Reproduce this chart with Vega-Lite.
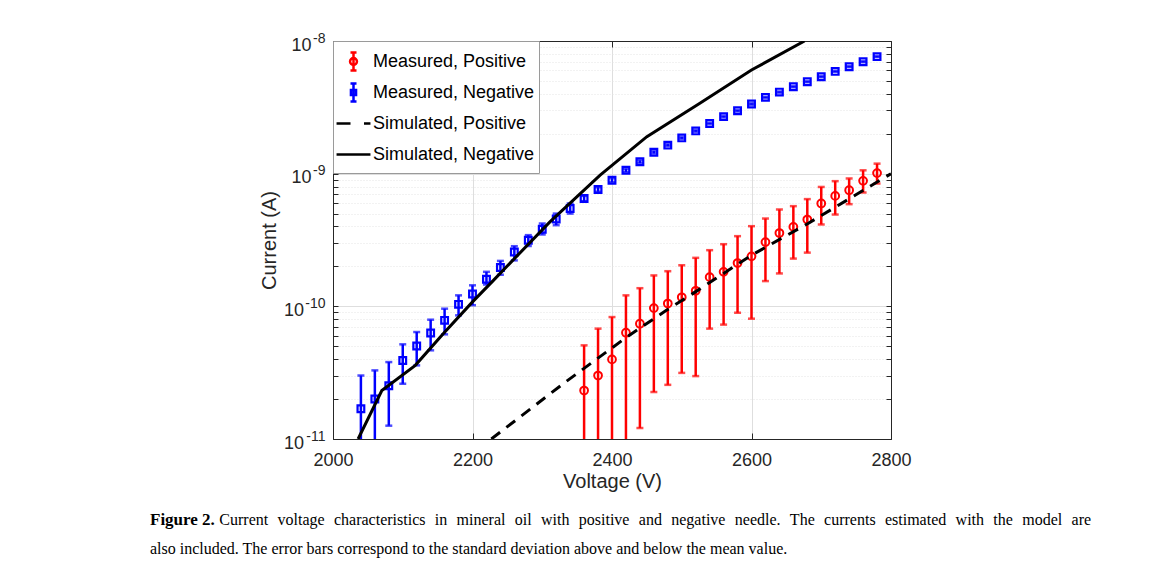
{
  "$schema": "https://vega.github.io/schema/vega-lite/v6.json",
  "width": 558,
  "height": 398,
  "autosize": {"type": "none"},
  "padding": {"left": 333, "top": 41, "right": 279, "bottom": 147},
  "background": "white",
  "title": {
    "text": "Figure 2.",
    "subtitle": [
      "\u200b\u2003\u2003\u2003\u2003\u2004Current\u2004\u2005voltage\u2004\u2005characteristics\u2004\u2005in\u2004\u2005mineral\u2004\u2005oil\u2004\u2005with\u2004\u2005positive\u2004\u2005and\u2004\u2005negative\u2004\u2005needle.\u2004\u2005The\u2004\u2005currents\u2004\u2005estimated\u2004\u2005with\u2004\u2005the\u2004\u2005model\u2004\u2005are",
      "also included. The error bars correspond to the standard deviation above and below the mean value."
    ],
    "orient": "bottom",
    "anchor": "start",
    "frame": "group",
    "offset": 21,
    "dx": -183,
    "font": "Liberation Serif",
    "fontSize": 17,
    "fontWeight": "bold",
    "color": "black",
    "subtitleFont": "Liberation Serif",
    "subtitleFontSize": 16,
    "subtitleFontWeight": "normal",
    "subtitleColor": "black",
    "subtitlePadding": -17,
    "subtitleLineHeight": 29
  },
  "datasets": {
    "measured": [
      {"series": "Measured, Negative", "V": 2040, "I": 1.69e-11, "lo": 3e-12, "hi": 3.01e-11},
      {"series": "Measured, Negative", "V": 2060, "I": 2.0e-11, "lo": 3e-12, "hi": 3.29e-11},
      {"series": "Measured, Negative", "V": 2080, "I": 2.52e-11, "lo": 1.26e-11, "hi": 3.8e-11},
      {"series": "Measured, Negative", "V": 2100, "I": 3.91e-11, "lo": 2.61e-11, "hi": 5.17e-11},
      {"series": "Measured, Negative", "V": 2120, "I": 5.02e-11, "lo": 3.59e-11, "hi": 6.4e-11},
      {"series": "Measured, Negative", "V": 2140, "I": 6.29e-11, "lo": 4.66e-11, "hi": 7.93e-11},
      {"series": "Measured, Negative", "V": 2160, "I": 7.84e-11, "lo": 6.15e-11, "hi": 9.6e-11},
      {"series": "Measured, Negative", "V": 2180, "I": 1.035e-10, "lo": 8.55e-11, "hi": 1.21e-10},
      {"series": "Measured, Negative", "V": 2200, "I": 1.24e-10, "lo": 1.02e-10, "hi": 1.44e-10},
      {"series": "Measured, Negative", "V": 2220, "I": 1.6e-10, "lo": 1.46e-10, "hi": 1.82e-10},
      {"series": "Measured, Negative", "V": 2240, "I": 1.96e-10, "lo": 1.73e-10, "hi": 2.2e-10},
      {"series": "Measured, Negative", "V": 2260, "I": 2.57e-10, "lo": 2.22e-10, "hi": 2.84e-10},
      {"series": "Measured, Negative", "V": 2280, "I": 3.15e-10, "lo": 2.85e-10, "hi": 3.44e-10},
      {"series": "Measured, Negative", "V": 2300, "I": 3.81e-10, "lo": 3.48e-10, "hi": 4.21e-10},
      {"series": "Measured, Negative", "V": 2320, "I": 4.55e-10, "lo": 4.09e-10, "hi": 5.0e-10},
      {"series": "Measured, Negative", "V": 2340, "I": 5.46e-10, "lo": 5.0e-10, "hi": 5.96e-10},
      {"series": "Measured, Negative", "V": 2360, "I": 6.5e-10, "lo": 6.2e-10, "hi": 6.8e-10},
      {"series": "Measured, Negative", "V": 2380, "I": 7.59e-10, "lo": 7.3e-10, "hi": 7.9e-10},
      {"series": "Measured, Negative", "V": 2400, "I": 8.93e-10, "lo": 8.6e-10, "hi": 9.25e-10},
      {"series": "Measured, Negative", "V": 2420, "I": 1.06e-9, "lo": 1.03e-9, "hi": 1.09e-9},
      {"series": "Measured, Negative", "V": 2440, "I": 1.23e-9, "lo": 1.2e-9, "hi": 1.26e-9},
      {"series": "Measured, Negative", "V": 2460, "I": 1.45e-9, "lo": 1.42e-9, "hi": 1.48e-9},
      {"series": "Measured, Negative", "V": 2480, "I": 1.64e-9, "lo": 1.61e-9, "hi": 1.67e-9},
      {"series": "Measured, Negative", "V": 2500, "I": 1.86e-9, "lo": 1.83e-9, "hi": 1.89e-9},
      {"series": "Measured, Negative", "V": 2520, "I": 2.1e-9, "lo": 2.07e-9, "hi": 2.13e-9},
      {"series": "Measured, Negative", "V": 2540, "I": 2.39e-9, "lo": 2.36e-9, "hi": 2.42e-9},
      {"series": "Measured, Negative", "V": 2560, "I": 2.69e-9, "lo": 2.65e-9, "hi": 2.73e-9},
      {"series": "Measured, Negative", "V": 2580, "I": 2.98e-9, "lo": 2.94e-9, "hi": 3.02e-9},
      {"series": "Measured, Negative", "V": 2600, "I": 3.35e-9, "lo": 3.31e-9, "hi": 3.39e-9},
      {"series": "Measured, Negative", "V": 2620, "I": 3.76e-9, "lo": 3.72e-9, "hi": 3.8e-9},
      {"series": "Measured, Negative", "V": 2640, "I": 4.12e-9, "lo": 4.08e-9, "hi": 4.16e-9},
      {"series": "Measured, Negative", "V": 2660, "I": 4.52e-9, "lo": 4.48e-9, "hi": 4.56e-9},
      {"series": "Measured, Negative", "V": 2680, "I": 4.93e-9, "lo": 4.89e-9, "hi": 4.97e-9},
      {"series": "Measured, Negative", "V": 2700, "I": 5.38e-9, "lo": 5.33e-9, "hi": 5.43e-9},
      {"series": "Measured, Negative", "V": 2720, "I": 5.9e-9, "lo": 5.85e-9, "hi": 5.95e-9},
      {"series": "Measured, Negative", "V": 2740, "I": 6.4e-9, "lo": 6.35e-9, "hi": 6.45e-9},
      {"series": "Measured, Negative", "V": 2760, "I": 6.98e-9, "lo": 6.92e-9, "hi": 7.04e-9},
      {"series": "Measured, Negative", "V": 2780, "I": 7.62e-9, "lo": 7.56e-9, "hi": 7.68e-9},
      {"series": "Measured, Positive", "V": 2360, "I": 2.32e-11, "lo": 5e-12, "hi": 5.08e-11},
      {"series": "Measured, Positive", "V": 2380, "I": 3.01e-11, "lo": 5e-12, "hi": 6.79e-11},
      {"series": "Measured, Positive", "V": 2400, "I": 3.98e-11, "lo": 5e-12, "hi": 8.3e-11},
      {"series": "Measured, Positive", "V": 2420, "I": 6.33e-11, "lo": 5e-12, "hi": 1.21e-10},
      {"series": "Measured, Positive", "V": 2440, "I": 7.4e-11, "lo": 1.21e-11, "hi": 1.37e-10},
      {"series": "Measured, Positive", "V": 2460, "I": 9.7e-11, "lo": 2.26e-11, "hi": 1.71e-10},
      {"series": "Measured, Positive", "V": 2480, "I": 1.05e-10, "lo": 2.56e-11, "hi": 1.84e-10},
      {"series": "Measured, Positive", "V": 2500, "I": 1.17e-10, "lo": 3.15e-11, "hi": 2.04e-10},
      {"series": "Measured, Positive", "V": 2520, "I": 1.31e-10, "lo": 2.98e-11, "hi": 2.32e-10},
      {"series": "Measured, Positive", "V": 2540, "I": 1.66e-10, "lo": 6.79e-11, "hi": 2.65e-10},
      {"series": "Measured, Positive", "V": 2560, "I": 1.82e-10, "lo": 7.28e-11, "hi": 2.94e-10},
      {"series": "Measured, Positive", "V": 2580, "I": 2.12e-10, "lo": 8.95e-11, "hi": 3.38e-10},
      {"series": "Measured, Positive", "V": 2600, "I": 2.38e-10, "lo": 8.07e-11, "hi": 4.02e-10},
      {"series": "Measured, Positive", "V": 2620, "I": 3.05e-10, "lo": 1.55e-10, "hi": 4.59e-10},
      {"series": "Measured, Positive", "V": 2640, "I": 3.57e-10, "lo": 1.77e-10, "hi": 5.37e-10},
      {"series": "Measured, Positive", "V": 2660, "I": 3.97e-10, "lo": 2.29e-10, "hi": 5.69e-10},
      {"series": "Measured, Positive", "V": 2680, "I": 4.51e-10, "lo": 2.54e-10, "hi": 6.43e-10},
      {"series": "Measured, Positive", "V": 2700, "I": 5.96e-10, "lo": 4.14e-10, "hi": 7.94e-10},
      {"series": "Measured, Positive", "V": 2720, "I": 6.8e-10, "lo": 4.92e-10, "hi": 8.78e-10},
      {"series": "Measured, Positive", "V": 2740, "I": 7.5e-10, "lo": 5.89e-10, "hi": 9.2e-10},
      {"series": "Measured, Positive", "V": 2760, "I": 8.83e-10, "lo": 7.21e-10, "hi": 1.06e-9},
      {"series": "Measured, Positive", "V": 2780, "I": 1.01e-9, "lo": 8.43e-10, "hi": 1.19e-9}
    ],
    "simulated": [
      {"series": "Simulated, Negative", "V": 2036, "I": 1.0e-11},
      {"series": "Simulated, Negative", "V": 2070, "I": 2.32e-11},
      {"series": "Simulated, Negative", "V": 2118, "I": 3.59e-11},
      {"series": "Simulated, Negative", "V": 2158, "I": 6.22e-11},
      {"series": "Simulated, Negative", "V": 2200, "I": 1.08e-10},
      {"series": "Simulated, Negative", "V": 2230, "I": 1.57e-10},
      {"series": "Simulated, Negative", "V": 2311, "I": 4.33e-10},
      {"series": "Simulated, Negative", "V": 2383, "I": 9.75e-10},
      {"series": "Simulated, Negative", "V": 2450, "I": 1.9e-9},
      {"series": "Simulated, Negative", "V": 2526, "I": 3.39e-9},
      {"series": "Simulated, Negative", "V": 2600, "I": 6.04e-9},
      {"series": "Simulated, Negative", "V": 2676, "I": 1.0e-8},
      {"series": "Simulated, Positive", "V": 2227, "I": 1.0e-11},
      {"series": "Simulated, Positive", "V": 2330, "I": 2.61e-11},
      {"series": "Simulated, Positive", "V": 2421, "I": 5.86e-11},
      {"series": "Simulated, Positive", "V": 2478, "I": 9.33e-11},
      {"series": "Simulated, Positive", "V": 2519, "I": 1.28e-10},
      {"series": "Simulated, Positive", "V": 2600, "I": 2.43e-10},
      {"series": "Simulated, Positive", "V": 2681, "I": 4.21e-10},
      {"series": "Simulated, Positive", "V": 2800, "I": 1.0e-9}
    ],
    "legendrows": [
      {"series": "Measured, Positive"},
      {"series": "Measured, Negative"},
      {"series": "Simulated, Positive"},
      {"series": "Simulated, Negative"}
    ]
  },
  "resolve": {"axis": {"x": "independent", "y": "independent"}},
  "layer": [
    {
      "data": {"name": "measured"},
      "mark": {"type": "rule", "strokeWidth": 2.5, "clip": true},
      "encoding": {
        "x": {
          "field": "V", "type": "quantitative",
          "scale": {"domain": [2000, 2800], "nice": false, "zero": false},
          "axis": {
            "orient": "bottom",
            "values": [2000, 2200, 2400, 2600, 2800],
            "format": "d",
            "title": "Voltage (V)",
            "grid": true, "gridColor": "#dedede", "gridWidth": 1,
            "tickSize": -6, "tickColor": "#262626", "tickWidth": 1,
            "domainColor": "#262626", "domainWidth": 1,
            "labelFont": "Liberation Sans", "labelFontSize": 18, "labelColor": "#262626",
            "labelPadding": 18, "labelFlush": false, "labelOverlap": false,
            "titleFont": "Liberation Sans", "titleFontSize": 20, "titleFontWeight": "normal",
            "titleColor": "#262626", "titlePadding": 2
          }
        },
        "y": {
          "field": "lo", "type": "quantitative",
          "scale": {"type": "log", "domain": [1e-11, 1e-8], "nice": false},
          "axis": {
            "orient": "left",
            "values": [1e-11, 2e-11, 3e-11, 4e-11, 5e-11, 6e-11, 7e-11, 8e-11, 9e-11, 1e-10, 2e-10, 3e-10, 4e-10, 5e-10, 6e-10, 7e-10, 8e-10, 9e-10, 1e-9, 2e-9, 3e-9, 4e-9, 5e-9, 6e-9, 7e-9, 8e-9, 9e-9, 1e-8],
            "labelExpr": "abs(log(datum.value)/LN10 - round(log(datum.value)/LN10)) < 0.001 ? '10' : ''",
            "title": "Current (A)",
            "grid": true,
            "gridColor": {"condition": {"test": "abs(log(datum.value)/LN10 - round(log(datum.value)/LN10)) < 0.001", "value": "#dedede"}, "value": "#e4e4e4"},
            "gridDash": {"condition": {"test": "abs(log(datum.value)/LN10 - round(log(datum.value)/LN10)) < 0.001", "value": []}, "value": [1, 2]},
            "tickSize": -5, "tickColor": "#262626", "tickWidth": 1,
            "domainColor": "#262626", "domainWidth": 1,
            "labelFont": "Liberation Sans", "labelFontSize": 18, "labelColor": "#262626",
            "labelPadding": {"condition": {"test": "datum.value < 5e-10", "value": 34.5}, "value": 27},
            "labelOffset": 4, "labelOverlap": false, "labelFlush": false,
            "titleFont": "Liberation Sans", "titleFontSize": 20, "titleFontWeight": "normal",
            "titleColor": "#262626", "titlePadding": 4
          }
        },
        "y2": {"field": "hi"},
        "color": {"condition": {"test": "datum.series == 'Measured, Positive'", "value": "#ff0000"}, "value": "#0000ff"}
      }
    },
    {
      "data": {"name": "measured"},
      "mark": {"type": "tick", "orient": "horizontal", "size": 7, "thickness": 2.5, "clip": true},
      "encoding": {
        "x": {"field": "V", "type": "quantitative", "scale": {"domain": [2000, 2800], "nice": false, "zero": false}, "axis": null},
        "y": {
          "field": "lo", "type": "quantitative",
          "scale": {"type": "log", "domain": [1e-11, 1e-8], "nice": false},
          "axis": {
            "orient": "left",
            "values": [1e-11, 1e-10, 1e-9, 1e-8],
            "labelExpr": "round(log(datum.value)/LN10) == -8 ? '-8' : round(log(datum.value)/LN10) == -9 ? '-9' : round(log(datum.value)/LN10) == -10 ? '-10' : '-11'",
            "title": null, "grid": false, "ticks": false, "tickSize": 0, "domain": false,
            "labelFont": "Liberation Sans", "labelFontSize": 14, "labelColor": "#262626",
            "labelPadding": 8, "labelOffset": -3, "labelOverlap": false, "labelFlush": false
          }
        },
        "color": {"condition": {"test": "datum.series == 'Measured, Positive'", "value": "#ff0000"}, "value": "#0000ff"}
      }
    },
    {
      "data": {"name": "measured"},
      "mark": {"type": "tick", "orient": "horizontal", "size": 7, "thickness": 2.5, "clip": true},
      "encoding": {
        "x": {"field": "V", "type": "quantitative", "scale": {"domain": [2000, 2800], "nice": false, "zero": false}, "axis": null},
        "y": {"field": "hi", "type": "quantitative", "scale": {"type": "log", "domain": [1e-11, 1e-8], "nice": false}, "axis": null},
        "color": {"condition": {"test": "datum.series == 'Measured, Positive'", "value": "#ff0000"}, "value": "#0000ff"}
      }
    },
    {
      "data": {"name": "measured"},
      "transform": [{"filter": "datum.series == 'Measured, Positive'"}],
      "mark": {"type": "point", "shape": "circle", "filled": false, "color": "#ff0000", "strokeWidth": 2, "size": 60, "opacity": 1, "clip": true},
      "encoding": {
        "x": {"field": "V", "type": "quantitative", "scale": {"domain": [2000, 2800], "nice": false, "zero": false}, "axis": null},
        "y": {"field": "I", "type": "quantitative", "scale": {"type": "log", "domain": [1e-11, 1e-8], "nice": false}, "axis": null}
      }
    },
    {
      "data": {"name": "measured"},
      "transform": [{"filter": "datum.series == 'Measured, Negative'"}],
      "mark": {"type": "point", "shape": "square", "filled": false, "color": "#0000ff", "strokeWidth": 2.2, "size": 45, "opacity": 1, "clip": true},
      "encoding": {
        "x": {"field": "V", "type": "quantitative", "scale": {"domain": [2000, 2800], "nice": false, "zero": false}, "axis": null},
        "y": {"field": "I", "type": "quantitative", "scale": {"type": "log", "domain": [1e-11, 1e-8], "nice": false}, "axis": null}
      }
    },
    {
      "data": {"name": "simulated"},
      "transform": [{"filter": "datum.series == 'Simulated, Negative'"}],
      "mark": {"type": "line", "color": "#000000", "strokeWidth": 3, "clip": true},
      "encoding": {
        "x": {
          "field": "V", "type": "quantitative",
          "scale": {"domain": [2000, 2800], "nice": false, "zero": false},
          "axis": {"orient": "top", "values": [2000, 2200, 2400, 2600, 2800], "labels": false, "title": null, "grid": false, "tickSize": -6, "tickColor": "#262626", "domainColor": "#262626"}
        },
        "y": {
          "field": "I", "type": "quantitative",
          "scale": {"type": "log", "domain": [1e-11, 1e-8], "nice": false},
          "axis": {"orient": "right", "values": [1e-11, 2e-11, 3e-11, 4e-11, 5e-11, 6e-11, 7e-11, 8e-11, 9e-11, 1e-10, 2e-10, 3e-10, 4e-10, 5e-10, 6e-10, 7e-10, 8e-10, 9e-10, 1e-9, 2e-9, 3e-9, 4e-9, 5e-9, 6e-9, 7e-9, 8e-9, 9e-9, 1e-8], "labels": false, "title": null, "grid": false, "tickSize": -5, "tickColor": "#262626", "domainColor": "#262626"}
        }
      }
    },
    {
      "data": {"name": "simulated"},
      "transform": [{"filter": "datum.series == 'Simulated, Positive'"}],
      "mark": {"type": "line", "color": "#000000", "strokeWidth": 3, "strokeDash": [11, 8], "clip": true},
      "encoding": {
        "x": {"field": "V", "type": "quantitative", "scale": {"domain": [2000, 2800], "nice": false, "zero": false}, "axis": null},
        "y": {"field": "I", "type": "quantitative", "scale": {"type": "log", "domain": [1e-11, 1e-8], "nice": false}, "axis": null}
      }
    },
    {
      "data": {"name": "legendrows"},
      "mark": {"type": "point", "filled": false, "opacity": 0, "size": 900, "strokeWidth": 2.5},
      "encoding": {
        "color": {
          "field": "series", "type": "nominal",
          "scale": {"domain": ["Measured, Positive", "Measured, Negative", "Simulated, Positive", "Simulated, Negative"], "range": ["#ff0000", "#0000ff", "#000000", "#000000"]},
          "legend": {
            "title": null,
            "orient": "top-left",
            "offset": 0,
            "padding": 4,
            "fillColor": "white",
            "strokeColor": "#9a9a9a",
            "labelFont": "Liberation Sans",
            "labelFontSize": 18,
            "labelColor": "#000000",
            "labelLimit": 400,
            "labelOffset": 3,
            "symbolSize": 900,
            "symbolStrokeWidth": 2.5,
            "symbolOpacity": 1,
            "rowPadding": 0,
            "zindex": 5
          }
        },
        "shape": {
          "field": "series", "type": "nominal",
          "scale": {
            "domain": ["Measured, Positive", "Measured, Negative", "Simulated, Positive", "Simulated, Negative"],
            "range": [
              "M0,-0.6V0.6M-0.2,-0.6H0.2M-0.2,0.6H0.2M0.23,0A0.23,0.23,0,1,1,-0.23,0A0.23,0.23,0,1,1,0.23,0",
              "M0,-0.6V0.6M-0.2,-0.6H0.2M-0.2,0.6H0.2M-0.17,-0.17H0.17V0.17H-0.17Z",
              "M0,-0.6M0,0.6M-1.13,0H-0.2M0.7,0H1.13",
              "M0,-0.6M0,0.6M-1.13,0H1.13"
            ]
          }
        }
      }
    }
  ]
}
